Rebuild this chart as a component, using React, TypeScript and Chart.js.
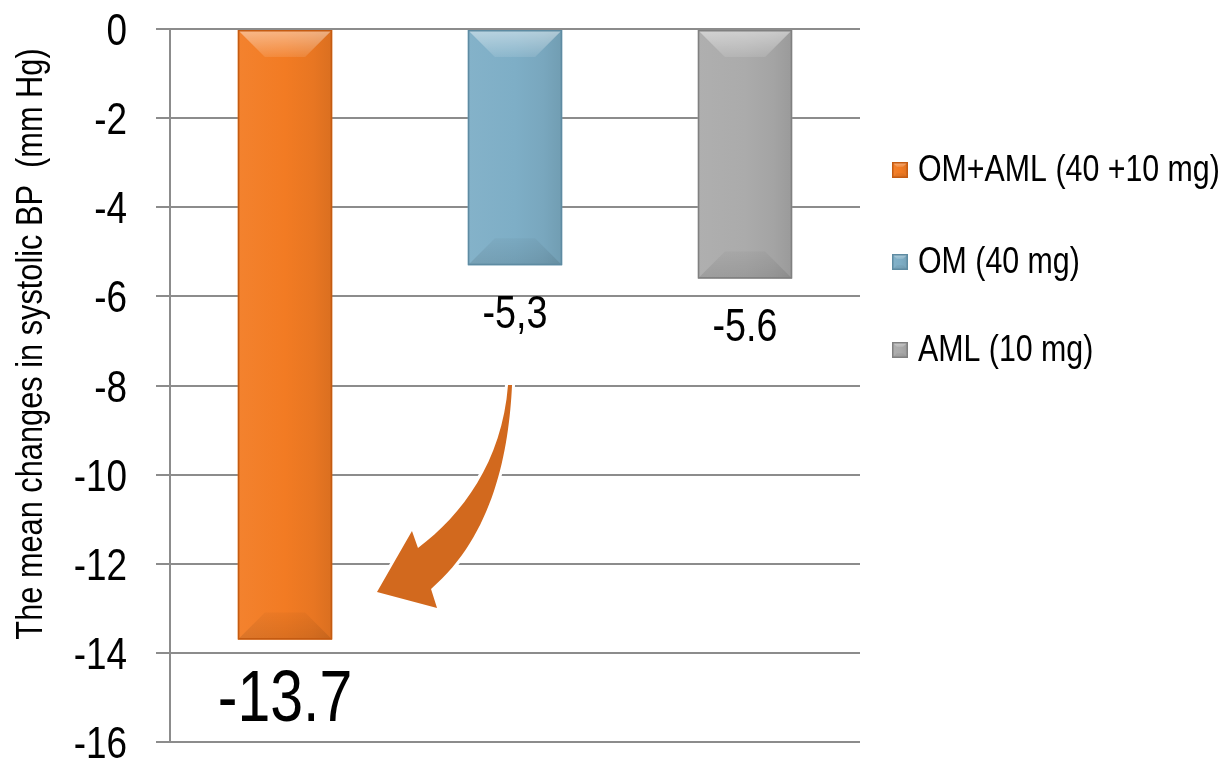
import { useEffect, useRef } from 'react';
import { Chart, registerables } from 'chart.js';

Chart.register(...registerables);

// ---- data ----
const categories = ['OM+AML (40 +10 mg)', 'OM (40 mg)', 'AML (10 mg)'];
const meanChanges = [-13.7, -5.3, -5.6];
const valueLabels = ['-13.7', '-5,3', '-5.6'];
const yTickValues = [0, -2, -4, -6, -8, -10, -12, -14, -16];
const yAxisTitle = 'The mean changes in systolic BP  (mm Hg)';

// ---- styling ----
const FONT = "'Liberation Sans', Arial, sans-serif";
const NARROW = 0.82; // horizontal squeeze giving a narrow face
const barColors = ['#f27b23', '#7eaec6', '#ababab'];
const barEdgeColors = ['#c45b12', '#5e8ba2', '#808080'];
const valueLabelSizes = [72, 46, 46];
const gridColor = '#8c8c8c';
const arrowColor = '#d2691e';

// curved call-out arrow, in fractions of the plot area (x of width, y of height)
const arrowShape = {
  tailL: [0.4899, 0.4993],
  tailR: [0.4957, 0.4993],
  rc1: [0.4913, 0.5905],
  rc2: [0.4696, 0.7097],
  neckR: [0.3783, 0.7854],
  barbR: [0.387, 0.8121],
  tip: [0.3, 0.7896],
  barbL: [0.3507, 0.7041],
  neckL: [0.3594, 0.7279],
  lc1: [0.4232, 0.6816],
  lc2: [0.4812, 0.6073],
};

function hexToRgb(hex: string) {
  const n = parseInt(hex.slice(1), 16);
  return [(n >> 16) & 255, (n >> 8) & 255, n & 255];
}
function shade(hex: string, amt: number) {
  const [r, g, b] = hexToRgb(hex);
  const f = (c: number) =>
    Math.round(amt >= 0 ? c + (255 - c) * amt : c * (1 + amt));
  return `rgb(${f(r)},${f(g)},${f(b)})`;
}

function narrowText(
  ctx: CanvasRenderingContext2D,
  text: string,
  x: number,
  y: number,
  size: number,
  align: CanvasTextAlign,
  rotate = 0
) {
  ctx.save();
  ctx.translate(x, y);
  if (rotate) ctx.rotate(rotate);
  ctx.scale(NARROW, 1);
  ctx.font = `${size}px ${FONT}`;
  ctx.fillStyle = '#000';
  ctx.textAlign = align;
  ctx.textBaseline = 'alphabetic';
  ctx.fillText(text, 0, 0);
  ctx.restore();
}

function poly(ctx: CanvasRenderingContext2D, pts: number[][], fill: string | CanvasGradient) {
  ctx.beginPath();
  ctx.moveTo(pts[0][0], pts[0][1]);
  for (let i = 1; i < pts.length; i++) ctx.lineTo(pts[i][0], pts[i][1]);
  ctx.closePath();
  ctx.fillStyle = fill;
  ctx.fill();
}

// rectangle with a soft bevel: light top face, darker bottom face, shaded sides
function drawBevel(
  ctx: CanvasRenderingContext2D,
  x0: number, y0: number, x1: number, y1: number,
  base: string, edge: string, bevel: number
) {
  const w = x1 - x0;
  const h = y1 - y0;
  const b = Math.max(1, Math.min(bevel, w / 2 - 1, h / 2 - 1));
  ctx.save();
  const body = ctx.createLinearGradient(x0, 0, x1, 0);
  body.addColorStop(0, shade(base, 0.05));
  body.addColorStop(0.5, base);
  body.addColorStop(0.8, shade(base, -0.04));
  body.addColorStop(1, shade(base, -0.1));
  ctx.fillStyle = body;
  ctx.fillRect(x0, y0, w, h);

  const top = ctx.createLinearGradient(0, y0, 0, y0 + b);
  top.addColorStop(0, 'rgba(255,255,255,0.45)');
  top.addColorStop(1, 'rgba(255,255,255,0.1)');
  poly(ctx, [[x0, y0], [x1, y0], [x1 - b, y0 + b], [x0 + b, y0 + b]], top);

  const bot = ctx.createLinearGradient(0, y1 - b, 0, y1);
  bot.addColorStop(0, 'rgba(0,0,0,0.03)');
  bot.addColorStop(1, 'rgba(0,0,0,0.1)');
  poly(ctx, [[x0, y1], [x1, y1], [x1 - b, y1 - b], [x0 + b, y1 - b]], bot);

  ctx.strokeStyle = edge;
  ctx.lineWidth = 1.5;
  ctx.strokeRect(x0 + 0.75, y0 + 0.75, w - 1.5, h - 1.5);
  ctx.restore();
}

const decorPlugin = {
  id: 'decor',
  afterDatasetsDraw(chart: any) {
    const ctx: CanvasRenderingContext2D = chart.ctx;
    const area = chart.chartArea;
    const meta = chart.getDatasetMeta(0);
    const yScale = chart.scales.y;

    // y tick labels
    yTickValues.forEach((v) => {
      const py = yScale.getPixelForValue(v);
      narrowText(ctx, String(v), area.left - 14 - 29, py + 45 * 0.716 / 2, 45, 'right');
    });

    // bevelled bars and their value labels
    meta.data.forEach((bar: any, i: number) => {
      const { x, y, base, width } = bar.getProps(['x', 'y', 'base', 'width'], true);
      const x0 = x - width / 2;
      const x1 = x + width / 2;
      const y0 = Math.min(y, base);
      const y1 = Math.max(y, base);
      drawBevel(ctx, x0, y0, x1, y1, barColors[i], barEdgeColors[i], 27);

      const size = valueLabelSizes[i];
      narrowText(ctx, valueLabels[i], x, y1 + 30 + size * 0.716, size, 'center');
    });

    // call-out arrow
    const P = (k: keyof typeof arrowShape) => {
      const [fx, fy] = arrowShape[k];
      return [area.left + fx * area.width, area.top + fy * area.height];
    };
    const tl = P('tailL'), tr = P('tailR'), rc1 = P('rc1'), rc2 = P('rc2');
    const nr = P('neckR'), br = P('barbR'), tip = P('tip'), bl = P('barbL');
    const nl = P('neckL'), lc1 = P('lc1'), lc2 = P('lc2');
    ctx.save();
    ctx.beginPath();
    ctx.moveTo(tl[0], tl[1]);
    ctx.lineTo(tr[0], tr[1]);
    ctx.bezierCurveTo(rc1[0], rc1[1], rc2[0], rc2[1], nr[0], nr[1]);
    ctx.lineTo(br[0], br[1]);
    ctx.lineTo(tip[0], tip[1]);
    ctx.lineTo(bl[0], bl[1]);
    ctx.lineTo(nl[0], nl[1]);
    ctx.bezierCurveTo(lc1[0], lc1[1], lc2[0], lc2[1], tl[0], tl[1]);
    ctx.closePath();
    ctx.lineJoin = 'miter';
    ctx.strokeStyle = '#ffffff';
    ctx.lineWidth = 6;
    ctx.stroke();
    ctx.fillStyle = arrowColor;
    ctx.fill();
    ctx.restore();

    // legend on the right
    const boxX = area.right + 32;
    const rowY = [168, 260, 348];
    const box = 16;
    const legendSize = 37;
    categories.forEach((label, i) => {
      const cy = rowY[i];
      drawBevel(ctx, boxX, cy - box / 2 + 2, boxX + box, cy + box / 2 + 2, barColors[i], barEdgeColors[i], 5);
      narrowText(ctx, label, boxX + box + 10, cy + legendSize * 0.716 / 2, legendSize, 'left');
    });

    // rotated y-axis title
    narrowText(ctx, yAxisTitle, 42, 344, 37.5, 'center', -Math.PI / 2);
  },
};

export default function App() {
  const canvasRef = useRef<HTMLCanvasElement | null>(null);

  useEffect(() => {
    document.body.style.margin = '0';
    const canvas = canvasRef.current;
    if (!canvas) return;
    const chart = new Chart(canvas, {
      type: 'bar',
      data: {
        labels: categories,
        datasets: [
          {
            data: meanChanges,
            backgroundColor: barColors,
            borderWidth: 0,
            barPercentage: 0.41,
            categoryPercentage: 1,
          },
        ],
      },
      options: {
        responsive: false,
        animation: false,
        layout: { padding: { top: 29, right: 364, bottom: 17, left: 0 } },
        plugins: {
          legend: { display: false },
          tooltip: { enabled: false },
        },
        scales: {
          x: { display: false },
          y: {
            min: -16,
            max: 0,
            afterBuildTicks: (scale: any) => {
              scale.ticks = yTickValues.map((v) => ({ value: v }));
            },
            afterFit: (scale: any) => {
              scale.width = 170;
            },
            ticks: { display: false },
            grid: {
              color: gridColor,
              lineWidth: 2,
              tickLength: 14,
              drawTicks: true,
            },
            border: { display: true, color: gridColor, width: 2 },
          },
        },
      },
      plugins: [decorPlugin],
    });
    return () => chart.destroy();
  }, []);

  return (
    <div style={{ width: 1224, height: 759 }}>
      <canvas ref={canvasRef} width={1224} height={759} style={{ display: 'block' }} />
    </div>
  );
}
